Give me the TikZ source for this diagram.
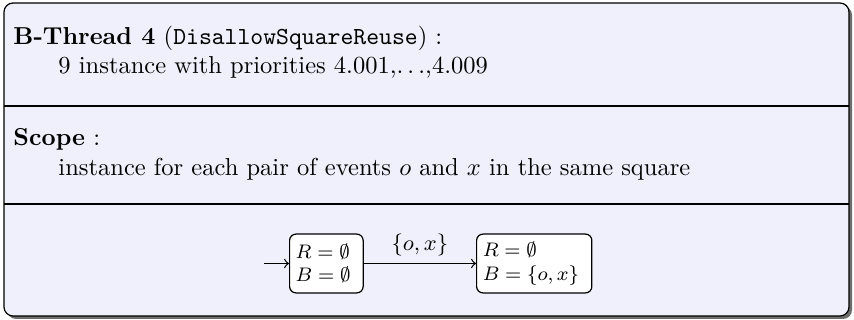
\documentclass[tikz,border=0pt]{standalone}
\usepackage{amssymb}
\definecolor{panelbg}{RGB}{240,240,252}
\definecolor{shadowgray}{RGB}{110,110,110}
\begin{document}
\begin{tikzpicture}[x=0.408pt,y=-0.408pt,
  txt/.style={anchor=base west, inner sep=0pt, font=\normalsize},
  statebox/.style={draw, fill=white, rounded corners=2.6pt, line width=0.5pt,
    align=left, font=\footnotesize, inner xsep=2.5pt, inner ysep=0pt,
    minimum height=24pt, anchor=west},
  trans/.style={->, line width=0.5pt}]
\useasboundingbox (0,0) rectangle (854,320);
% shadow and panel
\fill[shadowgray, rounded corners=3.7pt] (7,6) rectangle (852,319);
\draw[fill=panelbg, line width=0.5pt, rounded corners=3.7pt] (4,3) rectangle (849,316);
\draw[line width=0.5pt] (4,106) -- (849,106);
\draw[line width=0.5pt] (4,204) -- (849,204);
% texts
\node[txt] (title) at (13,44.5) {\textbf{B-Thread 4} (\texttt{DisallowSquareReuse}) :};
\node[txt] (prio) at (58,74) {9 instance with priorities 4.001,$\ldots$,4.009};
\node[txt] (scope) at (13,146) {\textbf{Scope} :};
\node[txt] (scopetxt) at (58,175.5) {instance for each pair of events $o$ and $x$ in the same square};
% automaton
\node[statebox, text width=25pt] (s1) at (289,263.5) {$R=\emptyset$\\$B=\emptyset$};
\node[statebox, text width=42pt] (s2) at (476,263.5) {$R=\emptyset$\\$B=\{o,x\}$};
\coordinate (init) at (264,263.5);
\draw[trans] (init) -- (s1);
\draw[trans] (s1) -- node[above, inner sep=3pt, font=\small] (lab) {$\{o,x\}$} (s2);
\end{tikzpicture}
\end{document}
